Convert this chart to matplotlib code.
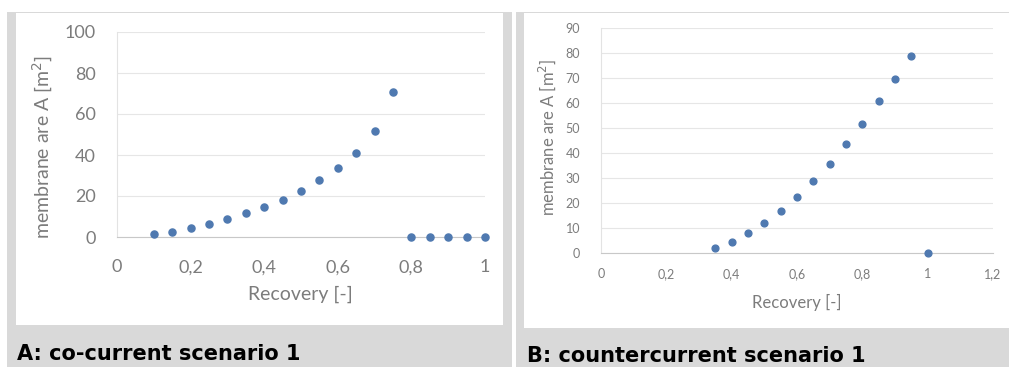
import numpy as np
import matplotlib
matplotlib.use('Agg')
import matplotlib.pyplot as plt
from matplotlib.patches import Rectangle
from matplotlib.ticker import FuncFormatter, MultipleLocator

# recovery vs. membrane area, co-current (A) and countercurrent (B)
rec_a = [0.1, 0.15, 0.2, 0.25, 0.3, 0.35, 0.4, 0.45, 0.5, 0.55, 0.6, 0.65, 0.7, 0.75,
         0.8, 0.85, 0.9, 0.95, 1.0]
area_a = [1.3, 2.5, 4.4, 6.2, 8.7, 11.5, 14.5, 18.2, 22.2, 27.6, 33.5, 40.9, 51.6, 70.6,
          0, 0, 0, 0, 0]

rec_b = [0.35, 0.4, 0.45, 0.5, 0.55, 0.6, 0.65, 0.7, 0.75, 0.8, 0.85, 0.9, 0.95, 1.0]
area_b = [2.0, 4.4, 7.9, 11.8, 16.9, 22.4, 28.8, 35.6, 43.7, 51.7, 60.8, 69.8, 78.9, 0]

captions = ['A: co-current scenario 1', 'B: countercurrent scenario 1']
xlabel = 'Recovery [-]'
ylabel = 'membrane are A [m$^2$]'

W, H = 1009, 367
fig = plt.figure(figsize=(W / 100., H / 100.), dpi=100)
fig.patch.set_facecolor('white')

def frac(x0, y0, x1, y1):
    # pixel box (top-left origin) -> figure fraction rect
    return [x0 / W, 1 - y1 / H, (x1 - x0) / W, (y1 - y0) / H]

def box(x0, y0, x1, y1, color):
    fig.patches.append(Rectangle(frac(x0, y0, x1, y1)[:2], (x1 - x0) / W, (y1 - y0) / H,
                                 transform=fig.transFigure, facecolor=color,
                                 edgecolor='none', zorder=-10))

gray = '#d9d9d9'
box(7, 12, 512, 367, gray)
box(516, 12, 1009, 367, gray)
box(16, 13, 503, 325, 'white')
box(524, 13, 1009, 328, 'white')

comma = FuncFormatter(lambda v, p: ('%g' % round(v, 2)).replace('.', ','))
tick_col = '#7c7c7c'
dot_col = '#4f79b0'

def style(ax, tsize, lsize, xpad, ypad):
    ax.set_facecolor('none')
    for s in ['top', 'right']:
        ax.spines[s].set_visible(False)
    ax.spines['left'].set_color('#e3e3e3')
    ax.spines['bottom'].set_color('#c8c8c8')
    ax.spines['left'].set_linewidth(0.8)
    ax.spines['bottom'].set_linewidth(0.8)
    ax.grid(axis='y', color='#e6e6e6', linewidth=0.8)
    ax.set_axisbelow(True)
    ax.tick_params(length=0, labelsize=tsize, colors=tick_col)
    ax.tick_params(axis='x', pad=xpad)
    ax.tick_params(axis='y', pad=ypad)
    ax.xaxis.set_major_formatter(comma)
    ax.set_xlabel(xlabel, fontsize=lsize, color=tick_col)
    ax.set_ylabel(ylabel, fontsize=lsize, color=tick_col)

plt.rcParams['font.family'] = ['Lato', 'DejaVu Sans']

# A: co-current
ax1 = fig.add_axes(frac(117, 32, 485, 237))
ax1.scatter(rec_a, area_a, s=26, color=dot_col, zorder=3, clip_on=False)
ax1.set_xlim(0, 1)
ax1.set_ylim(0, 100)
ax1.xaxis.set_major_locator(MultipleLocator(0.2))
ax1.yaxis.set_major_locator(MultipleLocator(20))
style(ax1, 13, 14, 16, 15.5)
ax1.xaxis.set_label_coords((300 - 117) / 368., -(286 - 237) / 205.)
ax1.yaxis.set_label_coords(-(117 - 55) / 368., (237 - 147) / 205.)

# B: countercurrent
ax2 = fig.add_axes(frac(601, 28.3, 993, 252.7))
ax2.scatter(rec_b, area_b, s=24, color=dot_col, zorder=3, clip_on=False)
ax2.set_xlim(0, 1.2)
ax2.set_ylim(0, 90)
ax2.xaxis.set_major_locator(MultipleLocator(0.2))
ax2.yaxis.set_major_locator(MultipleLocator(10))
style(ax2, 9, 12, 11, 15)
ax2.xaxis.set_label_coords((797 - 601) / 392., -(294 - 252.7) / 224.4)
ax2.yaxis.set_label_coords(-(601 - 558) / 392., (252.7 - 137) / 224.4)

# panel captions
fig.text(17 / W, 1 - 360 / H, captions[0], fontsize=15, fontweight='bold',
         family='DejaVu Sans', color='black', va='baseline')
fig.text(527 / W, 1 - 362 / H, captions[1], fontsize=15, fontweight='bold',
         family='DejaVu Sans', color='black', va='baseline')

fig.savefig('out.png', dpi=100)
